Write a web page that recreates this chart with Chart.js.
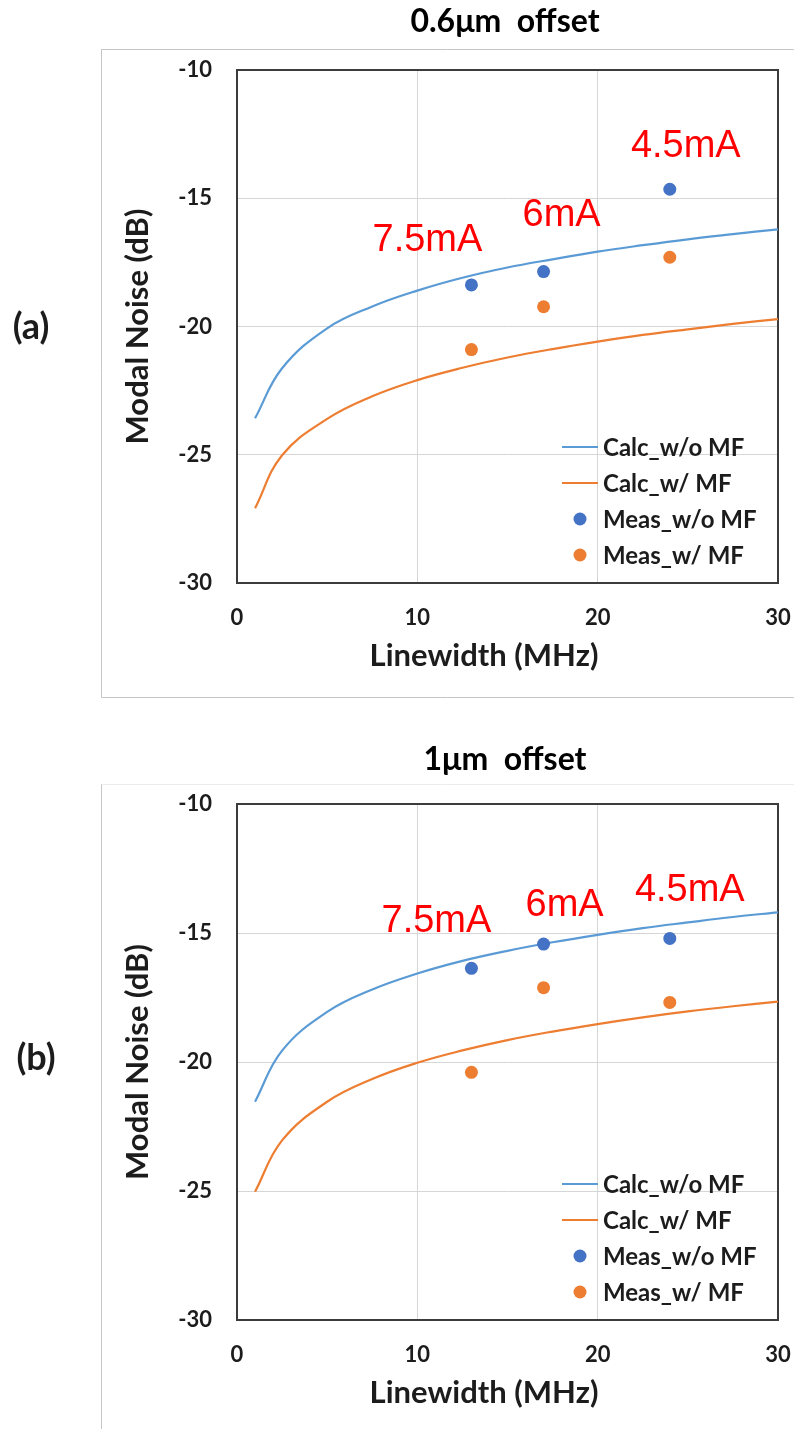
<!DOCTYPE html>
<html>
<head>
<meta charset="utf-8">
<script src="https://cdn.jsdelivr.net/npm/chart.js@4"></script>
<style>
  html, body { margin: 0; padding: 0; background: #ffffff; }
  body { width: 794px; height: 1429px; position: relative; overflow: hidden; }
  .panel { position: absolute; left: 0; width: 794px; }
  canvas { display: block; }
</style>
</head>
<body>
<div class="panel" style="top:0;height:714px"><canvas id="ca" width="794" height="714"></canvas></div>
<div class="panel" style="top:714px;height:715px"><canvas id="cb" width="794" height="715"></canvas></div>
<script>
// Series names and shared axis settings
const seriesNames = ['Calc_w/o MF', 'Calc_w/ MF', 'Meas_w/o MF', 'Meas_w/ MF'];
const xAxisTitle = 'Linewidth (MHz)';
const yAxisTitle = 'Modal Noise (dB)';
const xTickValues = [0, 10, 20, 30];
const yTickValues = [-30, -25, -20, -15, -10];

// Calculated curves (linewidth in MHz)
const calcLinewidth = [1, 2.5, 5, 7.5, 10, 12.5, 15, 17.5, 20, 22.5, 25, 27.5, 30];
const calcNoMF_a = [-23.58, -21.63, -20.07, -19.22, -18.60, -18.10, -17.70, -17.38, -17.08, -16.83, -16.60, -16.40, -16.21];
const calcMF_a   = [-27.09, -25.02, -23.60, -22.72, -22.09, -21.61, -21.21, -20.88, -20.59, -20.33, -20.11, -19.90, -19.71];
const calcNoMF_b = [-21.54, -19.56, -18.06, -17.19, -16.57, -16.08, -15.69, -15.36, -15.07, -14.81, -14.59, -14.38, -14.20];
const calcMF_b   = [-25.03, -23.04, -21.54, -20.66, -20.03, -19.55, -19.15, -18.82, -18.53, -18.27, -18.04, -17.84, -17.66];

// Measured points at three bias currents
const measLinewidth = [13, 17, 24];
const currentLabels = ['7.5mA', '6mA', '4.5mA'];
const measNoMF_a = [-18.38, -17.86, -14.65];
const measMF_a   = [-20.90, -19.23, -17.30];
const measNoMF_b = [-16.37, -15.43, -15.21];
const measMF_b   = [-20.40, -17.12, -17.69];

// Panel titles and tags
const panelTitles = ['0.6\u03bcm  offset', '1\u03bcm  offset'];
const panelTags = ['(a)', '(b)'];

const FONT = 'Lato, "Open Sans", "DejaVu Sans", sans-serif';
const TEXT = '#1c1c1c';
const BLUE_LINE = '#5b9bd5';
const ORANGE = '#ed7d31';
const BLUE_DOT = '#4472c4';
const AXIS_TITLE_SIZE = 31;

const toXY = (xs, ys) => xs.map((x, i) => ({ x: x, y: ys[i] }));

function decorPlugin(cfg) {
  return {
    id: 'decor',
    beforeDatasetsDraw(chart) {
      const { ctx, chartArea: a } = chart;
      ctx.save();
      ctx.strokeStyle = '#3c3c3c';
      ctx.lineWidth = 2;
      ctx.strokeRect(a.left, a.top, a.right - a.left, a.bottom - a.top);
      ctx.restore();
    },
    afterDraw(chart) {
      const { ctx, chartArea: a, scales } = chart;
      ctx.save();
      // outer frame
      ctx.lineWidth = 1;
      ctx.strokeStyle = cfg.boxTopColor;
      ctx.beginPath();
      ctx.moveTo(101, cfg.boxTop); ctx.lineTo(794, cfg.boxTop);
      ctx.stroke();
      ctx.strokeStyle = '#c6c6c6';
      ctx.beginPath();
      ctx.moveTo(101.5, cfg.boxTop); ctx.lineTo(101.5, cfg.boxBottom);
      if (cfg.boxBottom < chart.height) { ctx.lineTo(794, cfg.boxBottom); }
      ctx.stroke();

      // panel title
      ctx.fillStyle = '#000';
      ctx.font = 'bold 32px ' + FONT;
      ctx.textAlign = 'center';
      ctx.textBaseline = 'middle';
      ctx.fillText(cfg.title, 505, cfg.titleY);

      // x-axis title, centred under the plot including its tick labels
      ctx.fillStyle = TEXT;
      ctx.font = 'bold ' + AXIS_TITLE_SIZE + 'px ' + FONT;
      ctx.fillText(xAxisTitle, 484, a.bottom + 73);

      // panel tag
      ctx.font = 'bold 36px ' + FONT;
      ctx.fillText(cfg.tag, cfg.tagX, cfg.tagY);

      // legend
      const ds = chart.data.datasets;
      ctx.font = 'bold 24px ' + FONT;
      ctx.textAlign = 'left';
      ctx.textBaseline = 'middle';
      ds.forEach((d, i) => {
        const y = a.bottom - 136 + i * 36;
        if (d.showLine) {
          ctx.strokeStyle = d.borderColor;
          ctx.lineWidth = 2;
          ctx.beginPath();
          ctx.moveTo(562, y); ctx.lineTo(598, y);
          ctx.stroke();
        } else {
          ctx.fillStyle = d.backgroundColor;
          ctx.beginPath();
          ctx.arc(580, y, 6.5, 0, Math.PI * 2);
          ctx.fill();
        }
        ctx.fillStyle = TEXT;
        ctx.fillText(d.label, 603, y + 1);
      });

      // bias current labels above the measured points
      ctx.font = '38px "Liberation Sans", Arial, sans-serif';
      ctx.fillStyle = '#ff0000';
      ctx.textAlign = 'center';
      currentLabels.forEach((t, i) => {
        const px = scales.x.getPixelForValue(measLinewidth[i]) + cfg.labelOffsets[i][0];
        const py = scales.y.getPixelForValue(cfg.measNoMF[i]) + cfg.labelOffsets[i][1];
        ctx.fillText(t, px, py);
      });
      ctx.restore();
    }
  };
}

function buildChart(cfg) {
  const tickFont = { family: FONT, size: 22, weight: 'bold' };
  const titleFont = { family: FONT, size: AXIS_TITLE_SIZE, weight: 'bold' };
  const halfLine = AXIS_TITLE_SIZE * 1.2 / 2;
  const gridColor = (ctx) => {
    const v = ctx.tick ? ctx.tick.value : null;
    return (v === -10 || v === -30 || v === 0 || v === 30) ? 'rgba(0,0,0,0)' : '#d6d6d6';
  };
  return new Chart(document.getElementById(cfg.canvas), {
    type: 'scatter',
    data: {
      datasets: [
        { label: seriesNames[0], data: toXY(calcLinewidth, cfg.calcNoMF), showLine: true,
          borderColor: BLUE_LINE, backgroundColor: BLUE_LINE, borderWidth: 2.2, pointRadius: 0,
          tension: 0.4, order: 2 },
        { label: seriesNames[1], data: toXY(calcLinewidth, cfg.calcMF), showLine: true,
          borderColor: ORANGE, backgroundColor: ORANGE, borderWidth: 2.2, pointRadius: 0,
          tension: 0.4, order: 2 },
        { label: seriesNames[2], data: toXY(measLinewidth, cfg.measNoMF), showLine: false,
          borderColor: BLUE_DOT, backgroundColor: BLUE_DOT, pointRadius: 6.5, borderWidth: 0, order: 1 },
        { label: seriesNames[3], data: toXY(measLinewidth, cfg.measMF), showLine: false,
          borderColor: ORANGE, backgroundColor: ORANGE, pointRadius: 6.5, borderWidth: 0, order: 1 }
      ]
    },
    options: {
      responsive: false,
      animation: false,
      devicePixelRatio: 1,
      layout: { padding: { left: 101, right: 16, top: cfg.plotTop, bottom: 0 } },
      plugins: { legend: { display: false }, tooltip: { enabled: false }, title: { display: false } },
      scales: {
        x: {
          type: 'linear', min: 0, max: 30,
          afterFit: (s) => { s.height = cfg.height - cfg.plotBottom; s.paddingLeft = 0; s.paddingRight = 0; },
          afterBuildTicks: (s) => { s.ticks = xTickValues.map(v => ({ value: v })); },
          ticks: { font: tickFont, color: TEXT, padding: 22 },
          grid: { color: gridColor, lineWidth: 1, drawTicks: false },
          border: { display: false },
          title: { display: false, text: xAxisTitle }
        },
        y: {
          type: 'linear', min: -30, max: -10,
          afterFit: (s) => { s.width = 136; s.paddingTop = 0; s.paddingBottom = 0; },
          afterBuildTicks: (s) => { s.ticks = yTickValues.map(v => ({ value: v })); },
          ticks: { font: tickFont, color: TEXT, padding: 25 },
          grid: { color: gridColor, lineWidth: 1, drawTicks: false },
          border: { display: false },
          title: { display: true, text: yAxisTitle, font: titleFont, color: TEXT,
                   padding: { top: 37 - halfLine, bottom: 0 } }
        }
      }
    },
    plugins: [decorPlugin(cfg)]
  });
}

buildChart({
  canvas: 'ca', title: panelTitles[0], tag: panelTags[0],
  calcNoMF: calcNoMF_a, calcMF: calcMF_a, measNoMF: measNoMF_a, measMF: measMF_a,
  height: 714, plotTop: 70, plotBottom: 583,
  titleY: 22, boxTop: 49.5, boxBottom: 697.5, boxTopColor: '#c6c6c6',
  tagX: 31, tagY: 327,
  labelOffsets: [[-44, -44], [18, -56], [16, -43]]
});

buildChart({
  canvas: 'cb', title: panelTitles[1], tag: panelTags[1],
  calcNoMF: calcNoMF_b, calcMF: calcMF_b, measNoMF: measNoMF_b, measMF: measMF_b,
  height: 715, plotTop: 90, plotBottom: 606,
  titleY: 46, boxTop: 70.5, boxBottom: 800, boxTopColor: '#ececec',
  tagX: 36, tagY: 344,
  labelOffsets: [[-35, -47], [21, -39], [20, -48]]
});
</script>
</body>
</html>
